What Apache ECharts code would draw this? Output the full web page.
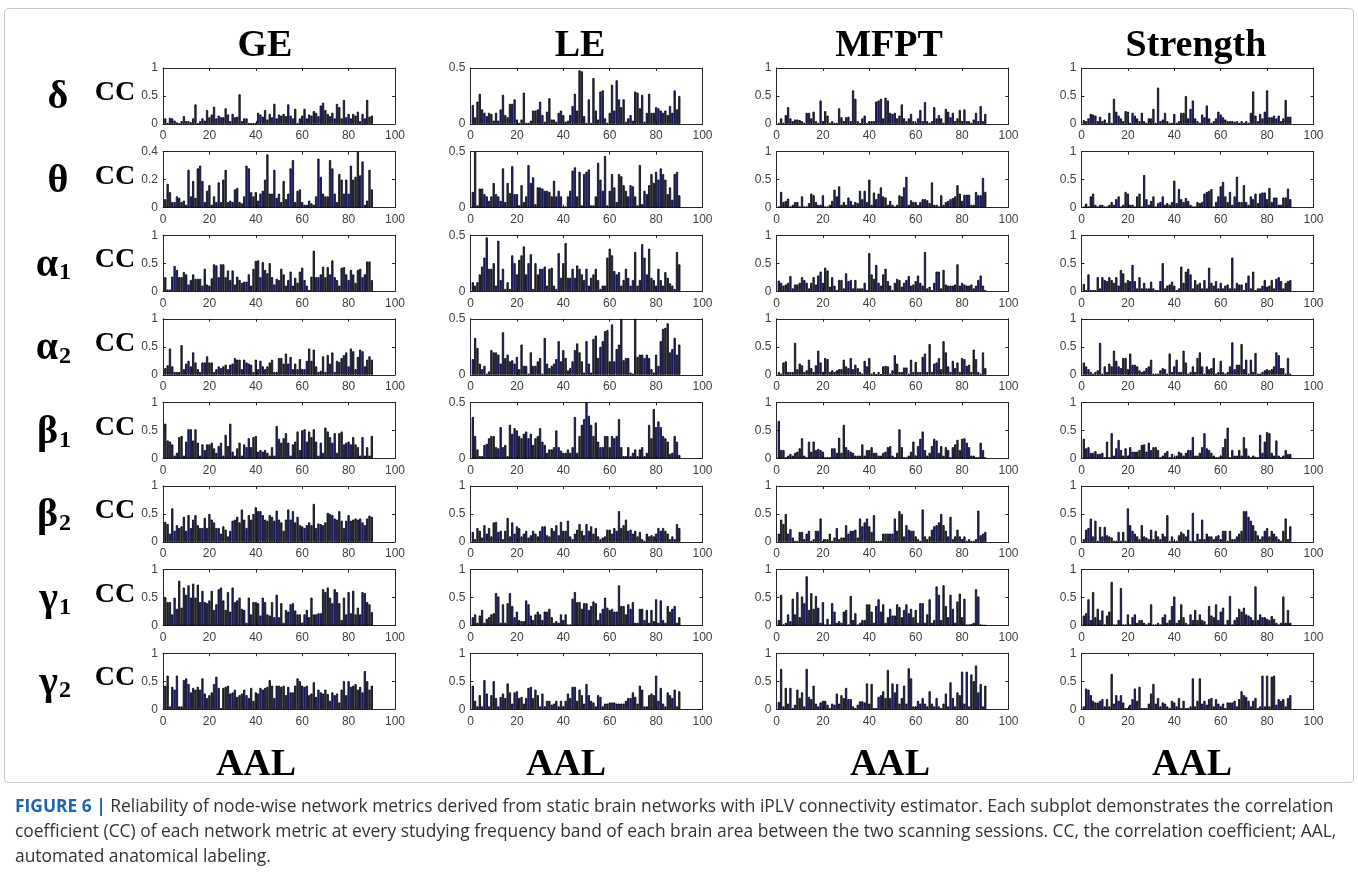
<!DOCTYPE html>
<html>
<head>
<meta charset="utf-8">
<script src="https://cdn.jsdelivr.net/npm/echarts@6/dist/echarts.min.js"></script>
<style>
  html, body { margin: 0; padding: 0; background: #ffffff; }
  #chart { width: 1358px; height: 887px; }
</style>
</head>
<body>
<div id="chart"></div>
<script>
// Node-wise reliability (correlation coefficient) of four network metrics,
// eight frequency bands, 90 AAL regions each.
const metrics = ['GE', 'LE', 'MFPT', 'Strength'];
const bands = ['δ', 'θ', 'α', 'α', 'β', 'β', 'γ', 'γ'];
const bandSubs = ['', '', '1', '2', '1', '2', '1', '2'];
const xTicks = [0, 20, 40, 60, 80, 100];

// y-axis upper limit per band, one list per metric
const yMaxGE = [1, 0.4, 1, 1, 1, 1, 1, 1];
const yMaxLE = [0.5, 0.5, 0.5, 0.5, 0.5, 1, 1, 1];
const yMaxMFPT = [1, 1, 1, 1, 1, 1, 1, 1];
const yMaxStrength = [1, 1, 1, 1, 1, 1, 1, 1];

// ---- GE ----
const geDelta = [0.10,0.02,0.11,0.10,0.06,0.03,0.01,0.05,0.14,0.05, 0.05,0.03,0.10,0.35,0.01,0.05,0.10,0.06,0.25,0.12, 0.17,0.31,0.10,0.15,0.12,0.12,0.28,0.17,0.05,0.18, 0.12,0.13,0.53,0.05,0.10,0.10,0.01,0.01,0.01,0.02, 0.20,0.17,0.13,0.25,0.08,0.18,0.12,0.36,0.10,0.17, 0.15,0.18,0.14,0.35,0.15,0.10,0.27,0.02,0.10,0.15, 0.27,0.10,0.17,0.15,0.23,0.20,0.14,0.33,0.38,0.25, 0.18,0.14,0.20,0.10,0.36,0.30,0.10,0.43,0.12,0.18, 0.10,0.18,0.15,0.22,0.05,0.18,0.10,0.43,0.13,0.15];
const geTheta = [0.06,0.17,0.11,0.04,0.04,0.08,0.07,0.04,0.05,0.02, 0.27,0.08,0.19,0.07,0.28,0.30,0.19,0.04,0.12,0.16, 0.02,0.08,0.04,0.18,0.04,0.20,0.27,0.04,0.05,0.04, 0.13,0.14,0.04,0.03,0.08,0.30,0.28,0.11,0.08,0.11, 0.05,0.10,0.12,0.20,0.38,0.10,0.10,0.27,0.07,0.10, 0.04,0.19,0.06,0.10,0.28,0.34,0.04,0.12,0.13,0.04, 0.02,0.02,0.05,0.03,0.02,0.08,0.35,0.22,0.10,0.08, 0.08,0.34,0.28,0.10,0.04,0.24,0.20,0.10,0.20,0.10, 0.30,0.20,0.22,0.40,0.23,0.33,0.02,0.05,0.27,0.13];
const geAlpha1 = [0.25,0.03,0.03,0.26,0.45,0.38,0.25,0.25,0.34,0.30, 0.12,0.20,0.30,0.22,0.22,0.22,0.10,0.40,0.12,0.10, 0.23,0.48,0.46,0.25,0.48,0.48,0.25,0.37,0.20,0.37, 0.12,0.26,0.20,0.15,0.17,0.17,0.30,0.10,0.40,0.54, 0.55,0.25,0.52,0.38,0.32,0.50,0.25,0.12,0.22,0.20, 0.40,0.30,0.10,0.20,0.35,0.10,0.24,0.15,0.35,0.42, 0.20,0.10,0.02,0.26,0.72,0.25,0.25,0.30,0.44,0.25, 0.43,0.30,0.55,0.25,0.20,0.10,0.42,0.43,0.30,0.20, 0.38,0.30,0.15,0.38,0.40,0.25,0.30,0.53,0.53,0.20];
const geAlpha2 = [0.12,0.17,0.47,0.15,0.05,0.05,0.05,0.53,0.10,0.20, 0.25,0.15,0.40,0.22,0.10,0.05,0.22,0.22,0.33,0.22, 0.22,0.05,0.10,0.15,0.12,0.15,0.18,0.10,0.18,0.20, 0.30,0.27,0.27,0.10,0.27,0.22,0.20,0.18,0.05,0.27, 0.10,0.25,0.15,0.10,0.15,0.22,0.27,0.05,0.05,0.30, 0.30,0.20,0.38,0.20,0.32,0.10,0.20,0.10,0.28,0.10, 0.10,0.25,0.47,0.25,0.45,0.15,0.05,0.07,0.33,0.05, 0.35,0.20,0.40,0.05,0.25,0.23,0.30,0.35,0.40,0.15, 0.47,0.42,0.10,0.32,0.45,0.42,0.15,0.27,0.33,0.27];
const geBeta1 = [0.62,0.32,0.30,0.25,0.05,0.10,0.38,0.40,0.05,0.30, 0.52,0.52,0.32,0.52,0.28,0.05,0.25,0.15,0.25,0.25, 0.28,0.18,0.10,0.22,0.28,0.05,0.42,0.22,0.62,0.12, 0.05,0.18,0.28,0.05,0.25,0.20,0.36,0.20,0.38,0.40, 0.12,0.15,0.12,0.15,0.10,0.05,0.20,0.05,0.58,0.35, 0.28,0.36,0.45,0.28,0.05,0.25,0.30,0.48,0.15,0.50, 0.52,0.30,0.48,0.38,0.52,0.30,0.05,0.28,0.10,0.55, 0.48,0.38,0.28,0.45,0.10,0.45,0.48,0.25,0.28,0.30, 0.25,0.38,0.25,0.20,0.05,0.38,0.05,0.20,0.05,0.40];
const geBeta2 = [0.36,0.32,0.15,0.60,0.20,0.30,0.25,0.28,0.45,0.20, 0.48,0.25,0.40,0.48,0.30,0.25,0.25,0.43,0.25,0.50, 0.40,0.35,0.25,0.25,0.15,0.28,0.22,0.10,0.20,0.38, 0.40,0.45,0.35,0.58,0.40,0.25,0.48,0.40,0.50,0.62, 0.55,0.55,0.48,0.40,0.38,0.48,0.45,0.38,0.56,0.40, 0.35,0.20,0.40,0.58,0.40,0.55,0.35,0.45,0.30,0.28, 0.25,0.30,0.35,0.30,0.68,0.25,0.33,0.32,0.30,0.35, 0.52,0.50,0.48,0.42,0.40,0.55,0.38,0.25,0.38,0.48, 0.38,0.40,0.42,0.40,0.42,0.35,0.30,0.42,0.47,0.45];
const geGamma1 = [0.50,0.42,0.42,0.20,0.50,0.30,0.80,0.32,0.68,0.55, 0.72,0.50,0.75,0.50,0.73,0.42,0.62,0.42,0.40,0.45, 0.62,0.28,0.38,0.65,0.68,0.45,0.28,0.60,0.25,0.68, 0.42,0.45,0.50,0.30,0.28,0.05,0.50,0.20,0.42,0.42, 0.40,0.18,0.50,0.42,0.20,0.18,0.42,0.15,0.55,0.15, 0.40,0.05,0.28,0.25,0.38,0.40,0.27,0.20,0.20,0.05, 0.20,0.28,0.15,0.50,0.20,0.20,0.22,0.22,0.65,0.60, 0.68,0.50,0.40,0.65,0.60,0.40,0.10,0.50,0.20,0.60, 0.22,0.62,0.20,0.32,0.20,0.60,0.58,0.42,0.38,0.24];
const geGamma2 = [0.42,0.60,0.05,0.40,0.35,0.60,0.05,0.05,0.52,0.55, 0.45,0.30,0.38,0.35,0.40,0.35,0.55,0.28,0.20,0.25, 0.30,0.45,0.58,0.38,0.02,0.38,0.40,0.42,0.28,0.30, 0.35,0.22,0.25,0.28,0.35,0.25,0.20,0.38,0.15,0.30, 0.28,0.38,0.35,0.38,0.40,0.52,0.42,0.20,0.42,0.42, 0.40,0.42,0.25,0.40,0.30,0.30,0.42,0.55,0.50,0.42, 0.40,0.42,0.25,0.28,0.48,0.22,0.35,0.30,0.28,0.35, 0.27,0.15,0.30,0.25,0.28,0.12,0.35,0.50,0.25,0.50, 0.40,0.42,0.45,0.35,0.40,0.30,0.68,0.50,0.35,0.42];

// ---- LE ----
const leDelta = [0.17,0.06,0.20,0.27,0.13,0.10,0.07,0.10,0.09,0.03, 0.10,0.03,0.13,0.26,0.08,0.06,0.18,0.18,0.22,0.04, 0.01,0.04,0.28,0.01,0.01,0.03,0.12,0.12,0.13,0.20, 0.08,0.02,0.11,0.23,0.04,0.04,0.02,0.10,0.12,0.08, 0.02,0.03,0.08,0.16,0.27,0.12,0.48,0.47,0.07,0.01, 0.22,0.01,0.41,0.12,0.04,0.29,0.30,0.05,0.01,0.10, 0.35,0.12,0.39,0.22,0.15,0.22,0.02,0.05,0.08,0.03, 0.29,0.28,0.14,0.26,0.02,0.10,0.27,0.10,0.10,0.15, 0.14,0.12,0.10,0.12,0.08,0.16,0.10,0.30,0.13,0.25];
const leTheta = [0.14,0.50,0.02,0.17,0.17,0.12,0.10,0.06,0.10,0.22, 0.12,0.10,0.06,0.35,0.05,0.22,0.13,0.37,0.12,0.12, 0.02,0.20,0.05,0.10,0.38,0.22,0.27,0.03,0.18,0.18, 0.17,0.15,0.15,0.14,0.10,0.24,0.10,0.15,0.10,0.01, 0.01,0.10,0.15,0.33,0.36,0.10,0.32,0.02,0.30,0.32, 0.34,0.02,0.02,0.10,0.40,0.25,0.15,0.46,0.02,0.15, 0.30,0.18,0.05,0.30,0.28,0.20,0.15,0.10,0.20,0.19, 0.10,0.02,0.38,0.03,0.15,0.12,0.20,0.30,0.22,0.32, 0.25,0.35,0.30,0.25,0.12,0.18,0.07,0.30,0.32,0.11];
const leAlpha1 = [0.08,0.05,0.08,0.15,0.22,0.30,0.48,0.20,0.20,0.25, 0.05,0.45,0.10,0.20,0.02,0.08,0.02,0.32,0.25,0.15, 0.28,0.32,0.40,0.15,0.25,0.33,0.02,0.25,0.15,0.20, 0.20,0.22,0.05,0.20,0.21,0.05,0.02,0.34,0.12,0.25, 0.43,0.12,0.12,0.20,0.12,0.23,0.20,0.15,0.10,0.20, 0.05,0.12,0.15,0.20,0.10,0.02,0.05,0.05,0.30,0.38, 0.32,0.18,0.15,0.17,0.05,0.10,0.20,0.12,0.05,0.10, 0.35,0.05,0.10,0.42,0.30,0.15,0.38,0.12,0.10,0.05, 0.20,0.10,0.05,0.17,0.12,0.07,0.05,0.02,0.35,0.24];
const leAlpha2 = [0.14,0.33,0.24,0.10,0.05,0.08,0.01,0.03,0.22,0.20, 0.20,0.18,0.10,0.38,0.15,0.18,0.12,0.13,0.10,0.16, 0.05,0.27,0.08,0.08,0.01,0.20,0.08,0.08,0.12,0.15, 0.01,0.33,0.10,0.06,0.08,0.10,0.14,0.30,0.12,0.22, 0.15,0.04,0.06,0.12,0.22,0.28,0.20,0.12,0.02,0.30, 0.10,0.02,0.32,0.35,0.15,0.25,0.30,0.39,0.40,0.12, 0.45,0.12,0.23,0.27,0.50,0.13,0.15,0.15,0.02,0.01, 0.50,0.16,0.18,0.18,0.15,0.18,0.15,0.05,0.02,0.18, 0.08,0.30,0.41,0.42,0.46,0.20,0.23,0.33,0.18,0.27];
const leBeta1 = [0.37,0.20,0.08,0.02,0.02,0.12,0.13,0.18,0.20,0.20, 0.10,0.09,0.28,0.10,0.12,0.02,0.30,0.22,0.27,0.25, 0.20,0.18,0.22,0.24,0.18,0.22,0.12,0.18,0.20,0.27, 0.15,0.12,0.05,0.08,0.08,0.10,0.25,0.10,0.07,0.05, 0.05,0.08,0.05,0.10,0.37,0.05,0.20,0.30,0.35,0.50, 0.38,0.30,0.20,0.32,0.15,0.10,0.10,0.20,0.20,0.10, 0.20,0.18,0.20,0.35,0.10,0.02,0.02,0.10,0.02,0.05, 0.08,0.02,0.08,0.10,0.02,0.05,0.30,0.18,0.44,0.28, 0.33,0.28,0.20,0.18,0.15,0.04,0.05,0.20,0.15,0.03];
const leBeta2 = [0.18,0.05,0.25,0.20,0.08,0.30,0.15,0.25,0.10,0.35, 0.36,0.18,0.20,0.05,0.20,0.43,0.10,0.35,0.15,0.28, 0.25,0.10,0.15,0.20,0.08,0.12,0.20,0.15,0.10,0.20, 0.28,0.28,0.12,0.10,0.25,0.20,0.30,0.12,0.36,0.20, 0.20,0.38,0.10,0.05,0.15,0.22,0.32,0.20,0.12,0.32, 0.20,0.28,0.15,0.25,0.10,0.05,0.08,0.10,0.22,0.22, 0.15,0.25,0.20,0.55,0.25,0.30,0.40,0.20,0.22,0.15, 0.20,0.10,0.18,0.05,0.02,0.15,0.10,0.12,0.10,0.15, 0.25,0.20,0.25,0.20,0.15,0.05,0.10,0.05,0.32,0.25];
const leGamma1 = [0.15,0.20,0.05,0.18,0.28,0.05,0.12,0.15,0.20,0.22, 0.58,0.52,0.05,0.38,0.05,0.40,0.58,0.35,0.15,0.25, 0.10,0.08,0.08,0.45,0.38,0.18,0.10,0.20,0.25,0.20, 0.10,0.25,0.25,0.30,0.15,0.05,0.08,0.05,0.20,0.10, 0.20,0.02,0.02,0.48,0.60,0.42,0.42,0.30,0.40,0.40, 0.28,0.35,0.43,0.40,0.10,0.22,0.30,0.50,0.32,0.28, 0.30,0.25,0.25,0.72,0.35,0.35,0.20,0.38,0.30,0.42, 0.05,0.05,0.30,0.30,0.10,0.28,0.05,0.28,0.08,0.47, 0.05,0.45,0.10,0.05,0.35,0.25,0.30,0.35,0.05,0.15];
const leGamma2 = [0.42,0.15,0.05,0.25,0.05,0.52,0.28,0.05,0.25,0.50, 0.20,0.05,0.22,0.28,0.20,0.46,0.30,0.10,0.30,0.32, 0.20,0.22,0.10,0.20,0.38,0.40,0.20,0.35,0.25,0.05, 0.28,0.05,0.15,0.15,0.08,0.10,0.15,0.05,0.15,0.05, 0.15,0.28,0.20,0.40,0.40,0.15,0.35,0.25,0.10,0.45, 0.25,0.15,0.12,0.05,0.25,0.22,0.05,0.10,0.10,0.12, 0.12,0.12,0.10,0.10,0.10,0.10,0.15,0.20,0.20,0.30, 0.22,0.10,0.42,0.35,0.05,0.05,0.25,0.28,0.25,0.60, 0.15,0.38,0.10,0.05,0.30,0.25,0.20,0.35,0.05,0.32];

// ---- MFPT ----
const mfptDelta = [0.02,0.10,0.02,0.16,0.30,0.10,0.05,0.08,0.08,0.07, 0.05,0.02,0.20,0.20,0.10,0.22,0.05,0.02,0.42,0.05, 0.23,0.15,0.02,0.05,0.02,0.02,0.28,0.12,0.05,0.12, 0.13,0.05,0.60,0.45,0.05,0.02,0.10,0.15,0.02,0.05, 0.05,0.05,0.40,0.42,0.45,0.10,0.47,0.42,0.20,0.18, 0.20,0.10,0.15,0.35,0.10,0.05,0.10,0.18,0.05,0.02, 0.10,0.25,0.05,0.39,0.05,0.02,0.05,0.30,0.10,0.16, 0.10,0.02,0.27,0.22,0.12,0.20,0.05,0.10,0.25,0.05, 0.26,0.05,0.05,0.02,0.08,0.20,0.05,0.32,0.05,0.18];
const mfptTheta = [0.02,0.28,0.10,0.12,0.16,0.02,0.05,0.10,0.10,0.02, 0.20,0.02,0.02,0.08,0.25,0.22,0.10,0.05,0.05,0.22, 0.02,0.02,0.05,0.12,0.32,0.20,0.38,0.05,0.10,0.05, 0.18,0.12,0.05,0.10,0.08,0.30,0.15,0.30,0.10,0.50, 0.05,0.27,0.15,0.25,0.36,0.20,0.18,0.05,0.12,0.05, 0.02,0.05,0.22,0.20,0.36,0.55,0.05,0.13,0.10,0.10, 0.05,0.10,0.15,0.15,0.13,0.08,0.45,0.05,0.05,0.02, 0.22,0.05,0.10,0.12,0.15,0.17,0.20,0.40,0.25,0.12, 0.23,0.23,0.23,0.05,0.05,0.28,0.22,0.22,0.53,0.28];
const mfptAlpha1 = [0.19,0.15,0.10,0.12,0.15,0.27,0.05,0.12,0.12,0.15, 0.25,0.20,0.15,0.05,0.15,0.25,0.12,0.28,0.35,0.15, 0.42,0.37,0.08,0.25,0.10,0.02,0.20,0.20,0.05,0.32, 0.18,0.20,0.05,0.20,0.05,0.05,0.05,0.15,0.02,0.68, 0.30,0.22,0.47,0.15,0.10,0.30,0.40,0.18,0.10,0.02, 0.15,0.22,0.20,0.08,0.15,0.20,0.27,0.10,0.12,0.18, 0.28,0.15,0.10,0.70,0.05,0.08,0.02,0.15,0.35,0.35, 0.05,0.38,0.12,0.10,0.10,0.10,0.12,0.48,0.10,0.15, 0.12,0.10,0.10,0.12,0.05,0.10,0.20,0.28,0.10,0.02];
const mfptAlpha2 = [0.05,0.02,0.22,0.24,0.05,0.05,0.05,0.57,0.10,0.20, 0.17,0.05,0.08,0.27,0.12,0.05,0.17,0.43,0.22,0.05, 0.30,0.28,0.05,0.08,0.05,0.08,0.10,0.10,0.27,0.15, 0.12,0.30,0.10,0.18,0.12,0.05,0.02,0.25,0.15,0.30, 0.02,0.05,0.01,0.05,0.01,0.15,0.16,0.15,0.02,0.08, 0.35,0.20,0.05,0.05,0.13,0.13,0.02,0.27,0.05,0.23, 0.05,0.05,0.32,0.38,0.05,0.55,0.05,0.20,0.22,0.30, 0.10,0.60,0.40,0.15,0.05,0.25,0.12,0.22,0.05,0.30, 0.28,0.16,0.18,0.05,0.45,0.28,0.05,0.02,0.40,0.12];
const mfptBeta1 = [0.67,0.15,0.15,0.02,0.05,0.08,0.05,0.10,0.12,0.18, 0.36,0.05,0.02,0.30,0.12,0.30,0.15,0.17,0.15,0.12, 0.02,0.02,0.02,0.18,0.18,0.10,0.37,0.10,0.60,0.20, 0.15,0.12,0.10,0.05,0.05,0.05,0.25,0.05,0.15,0.15, 0.20,0.10,0.10,0.05,0.05,0.10,0.12,0.20,0.22,0.05, 0.02,0.10,0.52,0.20,0.02,0.02,0.05,0.12,0.30,0.05, 0.22,0.35,0.48,0.15,0.05,0.10,0.22,0.35,0.32,0.10, 0.22,0.05,0.20,0.15,0.02,0.20,0.25,0.33,0.15,0.35, 0.36,0.28,0.20,0.05,0.05,0.02,0.02,0.28,0.15,0.02];
const mfptBeta2 = [0.15,0.40,0.32,0.50,0.15,0.23,0.08,0.02,0.02,0.18, 0.18,0.05,0.15,0.20,0.02,0.05,0.20,0.20,0.42,0.02, 0.05,0.05,0.15,0.02,0.08,0.25,0.05,0.08,0.08,0.30, 0.15,0.20,0.20,0.22,0.08,0.42,0.28,0.35,0.42,0.28, 0.18,0.48,0.02,0.02,0.02,0.15,0.15,0.15,0.15,0.15, 0.42,0.20,0.55,0.50,0.10,0.30,0.22,0.20,0.20,0.10, 0.05,0.02,0.58,0.10,0.05,0.10,0.22,0.28,0.30,0.35, 0.50,0.30,0.20,0.10,0.45,0.05,0.10,0.22,0.10,0.05, 0.10,0.02,0.05,0.02,0.02,0.05,0.56,0.12,0.15,0.18];
const mfptGamma1 = [0.10,0.55,0.02,0.05,0.20,0.08,0.48,0.20,0.60,0.15, 0.52,0.40,0.88,0.28,0.58,0.30,0.53,0.32,0.05,0.42, 0.02,0.12,0.02,0.40,0.25,0.05,0.08,0.05,0.25,0.28, 0.02,0.53,0.10,0.22,0.02,0.05,0.10,0.10,0.38,0.38, 0.25,0.05,0.35,0.47,0.25,0.38,0.05,0.15,0.30,0.18, 0.18,0.38,0.33,0.15,0.28,0.38,0.22,0.30,0.15,0.28, 0.05,0.40,0.40,0.05,0.20,0.47,0.05,0.10,0.70,0.55, 0.10,0.72,0.35,0.15,0.55,0.30,0.05,0.43,0.57,0.15, 0.48,0.02,0.02,0.03,0.05,0.65,0.52,0.02,0.01,0.01];
const mfptGamma2 = [0.13,0.72,0.05,0.38,0.10,0.38,0.02,0.08,0.35,0.20, 0.30,0.05,0.72,0.22,0.18,0.42,0.10,0.05,0.12,0.15, 0.15,0.08,0.02,0.10,0.08,0.28,0.10,0.25,0.20,0.38, 0.18,0.18,0.05,0.02,0.08,0.14,0.14,0.12,0.46,0.10, 0.45,0.02,0.02,0.22,0.25,0.32,0.20,0.70,0.20,0.46, 0.30,0.45,0.10,0.20,0.42,0.10,0.73,0.55,0.05,0.05, 0.15,0.10,0.20,0.10,0.05,0.32,0.10,0.05,0.20,0.05, 0.02,0.10,0.28,0.05,0.48,0.20,0.05,0.30,0.25,0.67, 0.10,0.67,0.05,0.62,0.50,0.78,0.30,0.45,0.05,0.42];

// ---- Strength ----
const strDelta = [0.07,0.05,0.10,0.18,0.17,0.15,0.05,0.13,0.05,0.08, 0.02,0.20,0.02,0.45,0.22,0.15,0.10,0.05,0.23,0.22, 0.02,0.20,0.15,0.10,0.05,0.20,0.05,0.02,0.10,0.10, 0.27,0.02,0.65,0.05,0.08,0.20,0.05,0.02,0.02,0.18, 0.02,0.05,0.20,0.20,0.50,0.10,0.27,0.42,0.10,0.05, 0.02,0.17,0.12,0.33,0.10,0.02,0.05,0.10,0.22,0.17, 0.12,0.08,0.05,0.05,0.05,0.04,0.05,0.02,0.05,0.02, 0.05,0.02,0.20,0.58,0.15,0.05,0.18,0.10,0.22,0.60, 0.12,0.12,0.15,0.10,0.15,0.05,0.10,0.43,0.13,0.13];
const strTheta = [0.02,0.07,0.02,0.20,0.25,0.05,0.02,0.05,0.05,0.02, 0.02,0.05,0.10,0.05,0.15,0.20,0.02,0.05,0.28,0.25, 0.05,0.05,0.02,0.20,0.25,0.02,0.58,0.15,0.05,0.12, 0.20,0.02,0.08,0.10,0.20,0.05,0.08,0.05,0.10,0.48, 0.08,0.33,0.15,0.10,0.17,0.12,0.05,0.02,0.02,0.10, 0.08,0.10,0.25,0.28,0.30,0.33,0.02,0.10,0.20,0.38, 0.46,0.20,0.10,0.28,0.05,0.20,0.55,0.10,0.10,0.40, 0.10,0.05,0.20,0.15,0.25,0.08,0.25,0.27,0.27,0.15, 0.35,0.10,0.18,0.18,0.05,0.05,0.18,0.18,0.34,0.15];
const strAlpha1 = [0.13,0.02,0.30,0.02,0.02,0.02,0.25,0.05,0.25,0.20, 0.18,0.25,0.20,0.15,0.25,0.10,0.38,0.32,0.15,0.20, 0.18,0.47,0.18,0.05,0.25,0.05,0.15,0.05,0.05,0.17, 0.05,0.02,0.02,0.18,0.50,0.05,0.10,0.12,0.17,0.10, 0.02,0.05,0.44,0.15,0.35,0.40,0.30,0.05,0.20,0.12, 0.15,0.05,0.20,0.05,0.42,0.15,0.10,0.18,0.05,0.15, 0.05,0.10,0.12,0.05,0.60,0.05,0.15,0.12,0.12,0.02, 0.15,0.28,0.05,0.35,0.02,0.05,0.05,0.10,0.20,0.08, 0.10,0.20,0.05,0.22,0.25,0.18,0.05,0.15,0.18,0.20];
const strAlpha2 = [0.22,0.15,0.10,0.05,0.02,0.05,0.08,0.57,0.02,0.15, 0.05,0.20,0.15,0.43,0.25,0.15,0.12,0.30,0.30,0.10, 0.38,0.18,0.18,0.15,0.08,0.05,0.07,0.12,0.15,0.27, 0.02,0.02,0.02,0.08,0.12,0.10,0.02,0.38,0.05,0.15, 0.27,0.05,0.05,0.43,0.22,0.02,0.05,0.15,0.05,0.30, 0.40,0.15,0.02,0.15,0.10,0.12,0.30,0.02,0.05,0.25, 0.05,0.02,0.05,0.15,0.58,0.10,0.18,0.18,0.55,0.10, 0.27,0.02,0.27,0.05,0.39,0.02,0.02,0.05,0.08,0.10, 0.08,0.10,0.15,0.40,0.35,0.12,0.12,0.02,0.30,0.02];
const strBeta1 = [0.35,0.18,0.20,0.10,0.10,0.13,0.08,0.08,0.10,0.02, 0.30,0.02,0.45,0.05,0.18,0.33,0.15,0.05,0.18,0.05, 0.20,0.12,0.12,0.12,0.15,0.24,0.25,0.12,0.28,0.15, 0.20,0.20,0.15,0.02,0.05,0.10,0.13,0.02,0.08,0.02, 0.05,0.12,0.10,0.05,0.10,0.15,0.15,0.38,0.05,0.05, 0.10,0.20,0.45,0.18,0.15,0.10,0.05,0.02,0.02,0.05, 0.20,0.35,0.55,0.02,0.15,0.05,0.05,0.15,0.05,0.38, 0.18,0.05,0.02,0.05,0.03,0.02,0.42,0.10,0.30,0.47, 0.45,0.10,0.05,0.32,0.05,0.02,0.05,0.15,0.08,0.08];
const strBeta2 = [0.05,0.22,0.25,0.42,0.10,0.38,0.02,0.27,0.10,0.27, 0.12,0.10,0.08,0.02,0.02,0.18,0.02,0.18,0.02,0.60, 0.30,0.20,0.15,0.10,0.05,0.30,0.10,0.08,0.05,0.22, 0.05,0.20,0.10,0.05,0.15,0.10,0.48,0.02,0.10,0.02, 0.02,0.12,0.18,0.15,0.10,0.22,0.02,0.52,0.02,0.15, 0.05,0.40,0.05,0.15,0.10,0.10,0.05,0.10,0.12,0.05, 0.20,0.20,0.02,0.20,0.05,0.05,0.10,0.15,0.20,0.55, 0.55,0.45,0.38,0.30,0.20,0.12,0.05,0.10,0.20,0.25, 0.10,0.20,0.15,0.10,0.05,0.02,0.20,0.42,0.05,0.28];
const strGamma1 = [0.18,0.22,0.47,0.10,0.60,0.15,0.30,0.10,0.27,0.02, 0.18,0.25,0.78,0.02,0.02,0.10,0.67,0.02,0.02,0.20, 0.02,0.15,0.20,0.05,0.10,0.10,0.05,0.02,0.05,0.38, 0.02,0.02,0.05,0.02,0.15,0.20,0.05,0.10,0.35,0.52, 0.05,0.10,0.38,0.15,0.05,0.02,0.20,0.10,0.28,0.10, 0.20,0.10,0.08,0.02,0.35,0.18,0.15,0.38,0.10,0.25, 0.32,0.02,0.10,0.53,0.02,0.10,0.15,0.30,0.25,0.32, 0.20,0.18,0.15,0.10,0.70,0.10,0.20,0.15,0.15,0.12, 0.10,0.17,0.12,0.05,0.02,0.05,0.52,0.05,0.28,0.05];
const strGamma2 = [0.05,0.37,0.35,0.25,0.15,0.12,0.12,0.15,0.18,0.05, 0.18,0.05,0.63,0.10,0.25,0.15,0.25,0.12,0.02,0.02, 0.08,0.18,0.37,0.15,0.40,0.02,0.02,0.02,0.10,0.28, 0.45,0.10,0.20,0.05,0.12,0.10,0.05,0.02,0.15,0.12, 0.05,0.20,0.02,0.15,0.02,0.02,0.05,0.55,0.05,0.15, 0.55,0.10,0.15,0.08,0.18,0.20,0.05,0.18,0.10,0.05, 0.10,0.02,0.12,0.12,0.12,0.15,0.05,0.18,0.32,0.25, 0.22,0.15,0.05,0.15,0.20,0.02,0.05,0.60,0.05,0.60, 0.05,0.58,0.60,0.08,0.18,0.15,0.18,0.05,0.20,0.25];

// columns (metrics) x rows (bands)
const columns = [
  [geDelta, geTheta, geAlpha1, geAlpha2, geBeta1, geBeta2, geGamma1, geGamma2],
  [leDelta, leTheta, leAlpha1, leAlpha2, leBeta1, leBeta2, leGamma1, leGamma2],
  [mfptDelta, mfptTheta, mfptAlpha1, mfptAlpha2, mfptBeta1, mfptBeta2, mfptGamma1, mfptGamma2],
  [strDelta, strTheta, strAlpha1, strAlpha2, strBeta1, strBeta2, strGamma1, strGamma2]
];
const yMaxes = [yMaxGE, yMaxLE, yMaxMFPT, yMaxStrength];

// ---- layout ----
const colLeft = [163, 470.5, 776.5, 1081.5];
const plotW = 232;
const rowTop0 = 68, rowPitch = 83.6, plotH = 56;
const titleX = [265, 580, 889, 1196];
const aalX = [256, 566, 890, 1192];

const axisColor = '#262626';
const labelColor = '#404040';
const tickFont = 'Liberation Sans';
const serif = '"Liberation Serif", "DejaVu Serif", serif';

const grids = [], xAxes = [], yAxes = [], series = [];
columns.forEach((col, c) => {
  col.forEach((vals, r) => {
    const k = grids.length;
    const ymax = yMaxes[c][r];
    const yint = ymax === 0.4 ? 0.2 : 0.5;
    grids.push({ left: colLeft[c], top: rowTop0 + r * rowPitch, width: plotW, height: plotH });
    const xBase = {
      gridIndex: k, type: 'value', min: 0, max: 100, interval: 20,
      axisLine: { show: true, onZero: false, lineStyle: { color: axisColor, width: 1 } },
      axisTick: { show: true, inside: true, length: 3, lineStyle: { color: axisColor } },
      splitLine: { show: false }
    };
    xAxes.push(Object.assign({}, xBase, {
      position: 'bottom',
      axisLabel: { show: true, color: labelColor, fontSize: 12, fontFamily: tickFont, margin: 6 }
    }));
    xAxes.push(Object.assign({}, xBase, { position: 'top', axisLabel: { show: false } }));
    const yBase = {
      gridIndex: k, type: 'value', min: 0, max: ymax, interval: yint,
      axisLine: { show: true, onZero: false, lineStyle: { color: axisColor, width: 1 } },
      axisTick: { show: true, inside: true, length: 3, lineStyle: { color: axisColor } },
      splitLine: { show: false }
    };
    yAxes.push(Object.assign({}, yBase, {
      position: 'left',
      axisLabel: { show: true, color: labelColor, fontSize: 12, fontFamily: tickFont, margin: 5 }
    }));
    yAxes.push(Object.assign({}, yBase, { position: 'right', axisLabel: { show: false } }));
    series.push({
      type: 'bar',
      xAxisIndex: 2 * k,
      yAxisIndex: 2 * k,
      data: vals.map((v, i) => [i + 1, v]),
      barWidth: 2.2,
      itemStyle: { color: '#2d2d9c', borderColor: '#000000', borderWidth: 0.8 },
      silent: true,
      clip: true
    });
  });
});

// text decorations: column titles, band labels, AAL labels, caption
const graphics = [];
graphics.push({
  type: 'rect', shape: { x: 4.5, y: 8.5, width: 1349, height: 774, r: 4 },
  style: { fill: 'none', stroke: '#c8c8c8', lineWidth: 1 }, silent: true
});
metrics.forEach((m, c) => {
  graphics.push({ type: 'text', x: titleX[c], y: 46,
    style: { text: m, font: 'bold 38px ' + serif, fill: '#000', textAlign: 'center', textVerticalAlign: 'middle' } });
  graphics.push({ type: 'text', x: aalX[c], y: 765,
    style: { text: 'AAL', font: 'bold 38px ' + serif, fill: '#000', textAlign: 'center', textVerticalAlign: 'middle' } });
});
bands.forEach((b, r) => {
  const cy = rowTop0 + r * rowPitch + 28;
  const hasSub = bandSubs[r] !== '';
  graphics.push({ type: 'text', x: 58, y: cy + 2,
    style: { text: b, font: 'bold 40px ' + serif, fill: '#000', textAlign: hasSub ? 'right' : 'center', textVerticalAlign: 'middle' } });
  if (hasSub) {
    graphics.push({ type: 'text', x: 59, y: cy + 10,
      style: { text: bandSubs[r], font: 'bold 24px ' + serif, fill: '#000', textAlign: 'left', textVerticalAlign: 'middle' } });
  }
  graphics.push({ type: 'text', x: 115, y: cy - 3,
    style: { text: 'CC', font: 'bold 28px ' + serif, fill: '#000', textAlign: 'center', textVerticalAlign: 'middle' } });
});

const captionFamily = '"Open Sans", "Liberation Sans", Arial, sans-serif';
const captionSize = 17.4;
const captionLines = [
  '{b|FIGURE 6 |} Reliability of node-wise network metrics derived from static brain networks with iPLV connectivity estimator. Each subplot demonstrates the correlation',
  'coefficient (CC) of each network metric at every studying frequency band of each brain area between the two scanning sessions. CC, the correlation coefficient; AAL,',
  'automated anatomical labeling.'
];
captionLines.forEach((line, i) => {
  graphics.push({ type: 'text', x: 15, y: 807 + i * 25,
    style: {
      text: line, fill: '#333333', textVerticalAlign: 'middle',
      font: captionSize + 'px ' + captionFamily,
      rich: { b: { fill: '#1c64ae', fontWeight: 'bold', fontSize: captionSize, fontFamily: captionFamily } }
    } });
});

const chart = echarts.init(document.getElementById('chart'), null, { renderer: 'canvas' });
chart.setOption({
  backgroundColor: '#ffffff',
  animation: false,
  grid: grids,
  xAxis: xAxes,
  yAxis: yAxes,
  series: series,
  graphic: graphics
});
</script>
</body>
</html>
